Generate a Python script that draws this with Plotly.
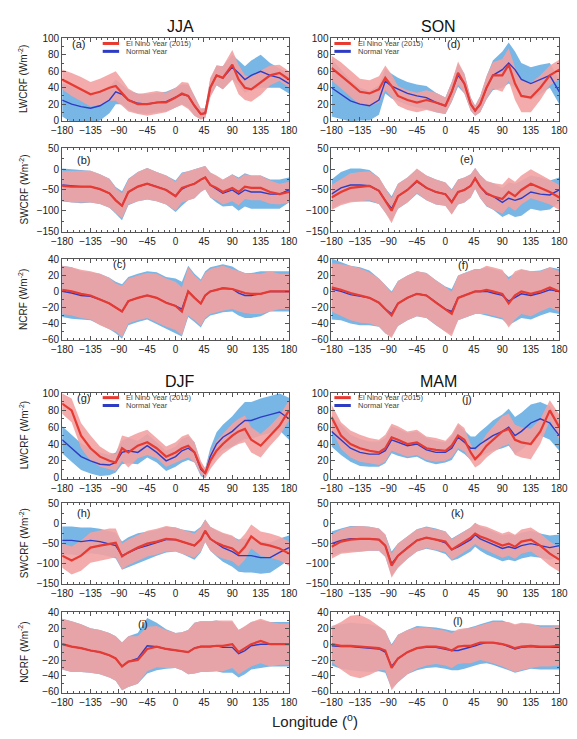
import plotly.graph_objects as go

W, H = 577, 739

# Longitude sample points (degrees)
LON = [-180, -165, -150, -135, -120, -105, -95, -85, -75, -60, -45, -30, -15, 0, 10,
       20, 30, 40, 47, 55, 65, 75, 90, 100, 110, 120, 135, 150, 165, 180]

# ---- JJA ----
JJA_LW_NINO = [50, 44, 38, 32, 35, 40, 42, 34, 25, 20, 20, 22, 22, 28, 33, 30, 18, 8, 9, 40, 55, 52, 68, 50, 40, 38, 46, 55, 58, 50]
JJA_LW_NINO_SD = [12, 14, 15, 15, 16, 16, 18, 16, 14, 12, 14, 14, 12, 12, 14, 16, 12, 7, 6, 12, 12, 14, 18, 18, 15, 15, 15, 12, 10, 10]
JJA_LW_NORM = [25, 20, 17, 15, 18, 25, 35, 32, 25, 21, 20, 22, 23, 28, 32, 30, 18, 8, 9, 40, 55, 52, 65, 58, 50, 55, 60, 55, 52, 45]
JJA_LW_NORM_SD = [20, 22, 20, 18, 18, 16, 15, 12, 12, 12, 12, 12, 12, 12, 12, 14, 12, 6, 6, 10, 12, 14, 15, 15, 16, 18, 20, 15, 12, 12]

JJA_SW_NINO = [-40, -42, -42, -42, -48, -58, -75, -88, -55, -42, -35, -42, -50, -65, -45, -40, -35, -25, -20, -38, -45, -55, -45, -55, -42, -45, -45, -55, -60, -55]
JJA_SW_NINO_SD = [35, 38, 38, 38, 36, 35, 30, 30, 30, 35, 38, 35, 35, 35, 35, 35, 35, 30, 28, 30, 30, 30, 32, 32, 30, 30, 30, 28, 25, 25]
JJA_SW_NORM = [-38, -40, -42, -42, -48, -58, -75, -88, -55, -42, -35, -42, -50, -65, -48, -40, -35, -25, -20, -38, -48, -58, -50, -60, -50, -55, -55, -60, -60, -50]
JJA_SW_NORM_SD = [40, 40, 40, 38, 36, 35, 32, 35, 32, 35, 38, 35, 35, 38, 40, 35, 35, 30, 28, 30, 32, 32, 38, 40, 40, 40, 40, 35, 35, 30]

JJA_NC_NINO = [2, 0, -3, -5, -10, -15, -20, -25, -12, -8, -5, -8, -14, -18, -25, 0, -8, -15, -5, 0, 2, 4, 3, 0, -2, -3, -3, 0, 0, 0]
JJA_NC_NINO_SD = [30, 30, 30, 30, 32, 32, 30, 32, 28, 28, 28, 30, 30, 30, 30, 30, 28, 28, 28, 28, 28, 28, 25, 25, 25, 25, 25, 25, 22, 22]
JJA_NC_NORM = [0, -2, -5, -6, -10, -15, -20, -25, -12, -8, -5, -8, -14, -18, -22, 0, -8, -15, -5, 0, 2, 4, 3, -2, -5, -5, -3, 0, 0, 0]
JJA_NC_NORM_SD = [32, 32, 30, 30, 32, 32, 32, 34, 30, 30, 30, 32, 32, 34, 34, 32, 30, 30, 30, 30, 30, 30, 28, 28, 28, 28, 28, 25, 25, 25]

# ---- SON ----
SON_LW_NINO = [64, 55, 45, 35, 33, 38, 52, 42, 30, 25, 22, 25, 22, 18, 35, 58, 45, 20, 12, 20, 40, 55, 55, 68, 45, 30, 28, 40, 55, 62]
SON_LW_NINO_SD = [15, 16, 16, 16, 16, 16, 15, 14, 12, 12, 12, 12, 12, 10, 12, 14, 12, 8, 6, 10, 14, 16, 20, 20, 20, 20, 18, 15, 12, 12]
SON_LW_NORM = [40, 32, 24, 20, 18, 25, 48, 42, 38, 33, 30, 28, 22, 18, 35, 55, 45, 20, 12, 20, 40, 55, 62, 70, 62, 50, 45, 50, 55, 35]
SON_LW_NORM_SD = [35, 30, 25, 20, 18, 18, 15, 15, 14, 14, 14, 14, 12, 10, 12, 14, 12, 8, 6, 10, 14, 18, 22, 25, 22, 20, 20, 18, 15, 15]

SON_SW_NINO = [-68, -55, -45, -42, -40, -52, -75, -100, -65, -50, -28, -45, -55, -60, -80, -55, -50, -40, -22, -42, -58, -65, -72, -55, -65, -50, -35, -45, -55, -68]
SON_SW_NINO_SD = [30, 32, 35, 35, 35, 32, 30, 30, 30, 30, 30, 30, 30, 28, 30, 30, 30, 28, 25, 28, 30, 32, 35, 35, 35, 35, 35, 32, 30, 30]
SON_SW_NORM = [-60, -45, -38, -38, -40, -52, -75, -95, -65, -50, -30, -45, -55, -60, -78, -55, -50, -40, -22, -42, -60, -65, -80, -70, -75, -70, -55, -60, -62, -50]
SON_SW_NORM_SD = [35, 38, 40, 40, 38, 32, 30, 30, 30, 30, 30, 30, 30, 28, 30, 30, 30, 28, 25, 28, 30, 32, 35, 38, 40, 42, 40, 40, 35, 30]

SON_NC_NINO = [5, 2, -2, -5, -8, -14, -22, -30, -15, -8, -3, -5, -14, -22, -28, -8, -5, -2, 0, 0, 2, 0, -3, -15, -5, 0, -3, 0, 5, 0]
SON_NC_NINO_SD = [30, 32, 34, 34, 32, 30, 30, 28, 28, 28, 28, 28, 28, 28, 28, 28, 28, 28, 28, 28, 30, 30, 30, 30, 30, 28, 28, 25, 25, 25]
SON_NC_NORM = [3, 0, -4, -6, -8, -14, -22, -28, -15, -8, -3, -5, -14, -22, -25, -8, -5, -2, 0, 0, 0, -2, -5, -12, -8, -3, -5, -2, 2, 0]
SON_NC_NORM_SD = [38, 36, 36, 36, 34, 30, 30, 28, 28, 28, 28, 28, 28, 28, 28, 28, 28, 28, 28, 28, 30, 30, 30, 30, 30, 30, 30, 28, 28, 28]

# ---- DJF ----
DJF_LW_NINO = [88, 80, 50, 35, 25, 20, 18, 35, 30, 38, 42, 35, 25, 30, 35, 38, 30, 12, 5, 20, 32, 40, 50, 55, 58, 45, 38, 50, 62, 80]
DJF_LW_NINO_SD = [12, 14, 15, 15, 12, 10, 10, 15, 18, 15, 15, 12, 12, 12, 14, 14, 12, 8, 6, 10, 12, 12, 14, 15, 16, 15, 14, 12, 12, 12]
DJF_LW_NORM = [45, 35, 25, 20, 16, 15, 18, 30, 32, 30, 38, 30, 20, 25, 32, 35, 30, 10, 5, 25, 40, 48, 55, 62, 68, 68, 72, 75, 78, 70]
DJF_LW_NORM_SD = [16, 16, 16, 15, 14, 12, 12, 14, 15, 14, 14, 12, 12, 12, 14, 14, 12, 8, 6, 10, 14, 15, 18, 20, 22, 22, 22, 22, 22, 25]

DJF_SW_NINO = [-80, -92, -80, -60, -55, -50, -48, -82, -72, -60, -50, -45, -38, -40, -45, -50, -55, -40, -18, -38, -48, -55, -62, -75, -58, -32, -50, -55, -62, -75]
DJF_SW_NINO_SD = [30, 35, 38, 38, 38, 38, 36, 32, 32, 32, 32, 32, 32, 30, 30, 30, 30, 30, 28, 30, 32, 32, 32, 32, 32, 30, 30, 30, 30, 30]
DJF_SW_NORM = [-42, -42, -45, -42, -45, -50, -55, -80, -72, -62, -55, -48, -40, -40, -45, -50, -55, -40, -18, -38, -50, -60, -70, -80, -80, -80, -85, -85, -72, -60]
DJF_SW_NORM_SD = [35, 35, 35, 32, 32, 32, 32, 35, 38, 38, 35, 32, 32, 30, 30, 32, 35, 32, 28, 30, 32, 35, 38, 40, 42, 42, 40, 38, 35, 30]

DJF_NC_NINO = [0, -3, -5, -8, -10, -14, -18, -28, -22, -20, -6, -3, -6, -8, -9, -10, -5, -3, -3, -3, -2, -2, 0, -10, -5, 0, 4, 0, 0, 0]
DJF_NC_NINO_SD = [32, 32, 30, 28, 28, 28, 28, 30, 32, 30, 28, 26, 24, 22, 24, 28, 32, 32, 32, 32, 32, 32, 30, 28, 28, 28, 28, 28, 26, 26]
DJF_NC_NORM = [0, -3, -5, -8, -10, -14, -18, -28, -22, -18, -2, -3, -6, -8, -9, -10, -5, -3, -3, -3, -2, -4, -4, -12, -8, -2, 0, 0, 0, 0]
DJF_NC_NORM_SD = [32, 32, 30, 28, 28, 28, 28, 30, 32, 32, 35, 30, 25, 22, 24, 28, 32, 32, 32, 32, 32, 32, 32, 30, 30, 30, 30, 28, 28, 28]

# ---- MAM ----
MAM_LW_NINO = [72, 50, 40, 35, 32, 30, 35, 48, 45, 40, 42, 35, 33, 32, 38, 50, 45, 30, 22, 28, 38, 45, 55, 58, 45, 42, 40, 55, 80, 60]
MAM_LW_NINO_SD = [15, 16, 16, 16, 15, 15, 16, 16, 16, 15, 15, 14, 14, 12, 14, 15, 14, 10, 10, 12, 14, 15, 18, 18, 18, 18, 18, 15, 12, 15]
MAM_LW_NORM = [55, 45, 35, 30, 28, 28, 32, 45, 42, 38, 40, 33, 30, 30, 35, 48, 42, 35, 35, 40, 45, 50, 55, 60, 50, 55, 65, 70, 65, 50]
MAM_LW_NORM_SD = [18, 18, 16, 16, 15, 15, 15, 16, 16, 15, 15, 14, 14, 12, 14, 15, 14, 14, 14, 15, 16, 18, 20, 22, 22, 22, 22, 20, 20, 18]

MAM_SW_NINO = [-58, -45, -40, -38, -38, -40, -55, -105, -80, -60, -42, -35, -40, -45, -65, -55, -45, -35, -25, -32, -38, -45, -55, -50, -58, -45, -40, -55, -75, -90]
MAM_SW_NINO_SD = [30, 30, 32, 32, 30, 28, 28, 30, 30, 28, 28, 26, 26, 26, 26, 26, 26, 26, 26, 28, 30, 30, 30, 30, 30, 30, 30, 30, 30, 30]
MAM_SW_NORM = [-50, -42, -38, -38, -38, -40, -55, -100, -80, -60, -42, -35, -40, -48, -65, -58, -50, -40, -28, -38, -45, -52, -62, -58, -62, -55, -50, -55, -60, -55]
MAM_SW_NORM_SD = [30, 30, 32, 32, 30, 28, 28, 30, 30, 28, 28, 28, 28, 28, 28, 30, 30, 30, 30, 30, 32, 32, 32, 32, 32, 32, 32, 30, 30, 28]

MAM_NC_NINO = [0, -2, -2, -3, -4, -5, -8, -30, -18, -10, -5, -3, -3, -5, -8, -3, -2, -2, 0, 2, 2, 2, 0, -2, -5, -3, -2, -3, -3, -2]
MAM_NC_NINO_SD = [22, 30, 38, 40, 35, 28, 25, 28, 30, 28, 26, 24, 22, 22, 22, 22, 22, 22, 22, 22, 24, 26, 28, 30, 30, 30, 28, 25, 25, 25]
MAM_NC_NORM = [-2, -3, -3, -4, -5, -6, -10, -28, -18, -10, -5, -4, -4, -6, -8, -8, -6, -4, -2, 0, 2, 2, 0, -3, -6, -4, -3, -4, -4, -4]
MAM_NC_NORM_SD = [25, 28, 30, 30, 30, 28, 26, 28, 30, 28, 28, 26, 25, 25, 25, 25, 25, 25, 25, 25, 26, 28, 30, 30, 30, 30, 28, 28, 28, 28]

X_TICKS = [-180, -135, -90, -45, 0, 45, 90, 135, 180]
SEASONS = ["JJA", "SON", "DJF", "MAM"]
VAR_NAMES = {"LW": "LWCRF", "SW": "SWCRF", "NC": "NCRF"}
Y_RANGES = {"LW": [-1, 101], "SW": [-151, 51], "NC": [-61, 41]}
Y_DTICK = {"LW": 20, "SW": 50, "NC": 20}

DATA = {
    ("JJA", "LW"): (JJA_LW_NINO, JJA_LW_NINO_SD, JJA_LW_NORM, JJA_LW_NORM_SD),
    ("JJA", "SW"): (JJA_SW_NINO, JJA_SW_NINO_SD, JJA_SW_NORM, JJA_SW_NORM_SD),
    ("JJA", "NC"): (JJA_NC_NINO, JJA_NC_NINO_SD, JJA_NC_NORM, JJA_NC_NORM_SD),
    ("SON", "LW"): (SON_LW_NINO, SON_LW_NINO_SD, SON_LW_NORM, SON_LW_NORM_SD),
    ("SON", "SW"): (SON_SW_NINO, SON_SW_NINO_SD, SON_SW_NORM, SON_SW_NORM_SD),
    ("SON", "NC"): (SON_NC_NINO, SON_NC_NINO_SD, SON_NC_NORM, SON_NC_NORM_SD),
    ("DJF", "LW"): (DJF_LW_NINO, DJF_LW_NINO_SD, DJF_LW_NORM, DJF_LW_NORM_SD),
    ("DJF", "SW"): (DJF_SW_NINO, DJF_SW_NINO_SD, DJF_SW_NORM, DJF_SW_NORM_SD),
    ("DJF", "NC"): (DJF_NC_NINO, DJF_NC_NINO_SD, DJF_NC_NORM, DJF_NC_NORM_SD),
    ("MAM", "LW"): (MAM_LW_NINO, MAM_LW_NINO_SD, MAM_LW_NORM, MAM_LW_NORM_SD),
    ("MAM", "SW"): (MAM_SW_NINO, MAM_SW_NINO_SD, MAM_SW_NORM, MAM_SW_NORM_SD),
    ("MAM", "NC"): (MAM_NC_NINO, MAM_NC_NINO_SD, MAM_NC_NORM, MAM_NC_NORM_SD),
}

# panel layout in pixels
COL_X = [(53, 288), (332, 568)]
ROW_Y = [(33, 118), (145, 230), (257, 340), (393, 480), (505, 587), (615, 697)]
# (season, variable, label, column, row)
PANELS = [
    ("JJA", "LW", "(a)", 0, 0), ("JJA", "SW", "(b)", 0, 1), ("JJA", "NC", "(c)", 0, 2),
    ("SON", "LW", "(d)", 1, 0), ("SON", "SW", "(e)", 1, 1), ("SON", "NC", "(f)", 1, 2),
    ("DJF", "LW", "(g)", 0, 3), ("DJF", "SW", "(h)", 0, 4), ("DJF", "NC", "(i)", 0, 5),
    ("MAM", "LW", "(j)", 1, 3), ("MAM", "SW", "(k)", 1, 4), ("MAM", "NC", "(l)", 1, 5),
]

RED = "#e63a32"
BLUE = "#2e3cc4"
RED_FILL = "rgba(242,162,162,0.9)"
BLUE_FILL = "rgba(104,174,226,0.9)"
FONT = "Liberation Sans, Arial, sans-serif"
TXT = "#222222"


def px(x):
    return x / W


def py(y):
    return 1 - y / H


fig = go.Figure()
annotations = []
shapes = []


def band(mean, sd):
    up = [m + s for m, s in zip(mean, sd)]
    lo = [m - s for m, s in zip(mean, sd)]
    return LON + LON[::-1], up + lo[::-1]


for i, (season, var, label, col, row) in enumerate(PANELS, start=1):
    xa, ya = f"x{i}", f"y{i}"
    nino, nino_sd, norm, norm_sd = DATA[(season, var)]

    bx, by = band(norm, norm_sd)
    fig.add_trace(go.Scatter(x=bx, y=by, fill="toself", fillcolor=BLUE_FILL, line=dict(width=0),
                             mode="lines", hoverinfo="skip", showlegend=False, xaxis=xa, yaxis=ya))
    bx, by = band(nino, nino_sd)
    fig.add_trace(go.Scatter(x=bx, y=by, fill="toself", fillcolor=RED_FILL, line=dict(width=0),
                             mode="lines", hoverinfo="skip", showlegend=False, xaxis=xa, yaxis=ya))
    fig.add_trace(go.Scatter(x=LON, y=norm, mode="lines", line=dict(color=BLUE, width=1.4),
                             name="Normal Year", showlegend=False, xaxis=xa, yaxis=ya))
    fig.add_trace(go.Scatter(x=LON, y=nino, mode="lines", line=dict(color=RED, width=2.2),
                             name="El Nino Year (2015)", showlegend=False, xaxis=xa, yaxis=ya))

    x0, x1 = COL_X[col]
    y0, y1 = ROW_Y[row]
    axis_common = dict(showline=True, linecolor="#555555", linewidth=1, mirror="ticks",
                       ticks="inside", ticklen=4, tickcolor="#555555", showgrid=False,
                       zeroline=False, tickfont=dict(family=FONT, size=10, color=TXT))
    fig.layout[f"xaxis{i}"] = dict(domain=[px(x0), px(x1)], range=[-180, 180], anchor=ya,
                                   tickvals=X_TICKS, tickangle=0,
                                   minor=dict(ticks="inside", ticklen=2, dtick=9, tick0=-180,
                                              tickcolor="#555555"),
                                   **axis_common)
    fig.layout[f"yaxis{i}"] = dict(domain=[py(y1), py(y0)], range=Y_RANGES[var], anchor=xa,
                                   dtick=Y_DTICK[var], tick0=0,
                                   minor=dict(ticks="inside", ticklen=2, dtick=Y_DTICK[var] / 2,
                                              tickcolor="#555555"),
                                   **axis_common)

    if col == 0:
        annotations.append(dict(text=f"{VAR_NAMES[var]} (Wm<sup>-2</sup>)", xref="paper", yref="paper",
                                x=px(13), y=py((y0 + y1) / 2), textangle=-90, showarrow=False,
                                xanchor="center", yanchor="middle",
                                font=dict(family=FONT, size=10, color=TXT)))

# panel letters
LABEL_POS = {"(a)": (70, 40), "(b)": (75, 157), "(c)": (112, 263), "(d)": (458, 40),
             "(e)": (472, 156), "(f)": (468, 264), "(g)": (75, 398), "(h)": (75, 515),
             "(i)": (137, 627), "(j)": (472, 399), "(k)": (463, 515), "(l)": (463, 624)}
for lab, (lx, ly) in LABEL_POS.items():
    annotations.append(dict(text=lab, xref="paper", yref="paper", x=px(lx), y=py(ly),
                            showarrow=False, xanchor="center", yanchor="middle",
                            font=dict(family=FONT, size=11, color=TXT)))

# in-panel keys: (line start x, line end x, red line y, text x)
KEY_GAP = 8
KEYS = [(95, 112, 39, 118), (335, 352, 39, 358), (95, 112, 398, 118), (335, 352, 398, 358)]
for kx0, kx1, ky, tx in KEYS:
    shapes.append(dict(type="line", xref="paper", yref="paper", x0=px(kx0), x1=px(kx1),
                       y0=py(ky), y1=py(ky), line=dict(color=RED, width=3)))
    shapes.append(dict(type="line", xref="paper", yref="paper", x0=px(kx0), x1=px(kx1),
                       y0=py(ky + KEY_GAP), y1=py(ky + KEY_GAP), line=dict(color=BLUE, width=3)))
    annotations.append(dict(text="El Nino Year (2015)", xref="paper", yref="paper", x=px(tx),
                            y=py(ky), showarrow=False, xanchor="left", yanchor="middle",
                            borderpad=0, font=dict(family=FONT, size=7.5, color="#444444")))
    annotations.append(dict(text="Normal Year", xref="paper", yref="paper", x=px(tx),
                            y=py(ky + KEY_GAP), showarrow=False, xanchor="left", yanchor="middle",
                            borderpad=0, font=dict(family=FONT, size=7.5, color="#444444")))

# season titles
TITLE_POS = {"JJA": (176, 22), "SON": (443, 22), "DJF": (175, 382), "MAM": (443, 382)}
for s in SEASONS:
    tx, ty = TITLE_POS[s]
    annotations.append(dict(text=s, xref="paper", yref="paper", x=px(tx), y=py(ty),
                            showarrow=False, xanchor="center", yanchor="middle",
                            font=dict(family=FONT, size=16, color="#111111")))

annotations.append(dict(text="Longitude (<sup>o</sup>)", xref="paper", yref="paper", x=px(315),
                        y=py(725), showarrow=False, xanchor="center", yanchor="middle",
                        font=dict(family=FONT, size=15, color=TXT)))

fig.update_layout(width=W, height=H, margin=dict(l=0, r=0, t=0, b=0),
                  paper_bgcolor="white", plot_bgcolor="white",
                  annotations=annotations, shapes=shapes, showlegend=False)

fig.write_html("out.html")
